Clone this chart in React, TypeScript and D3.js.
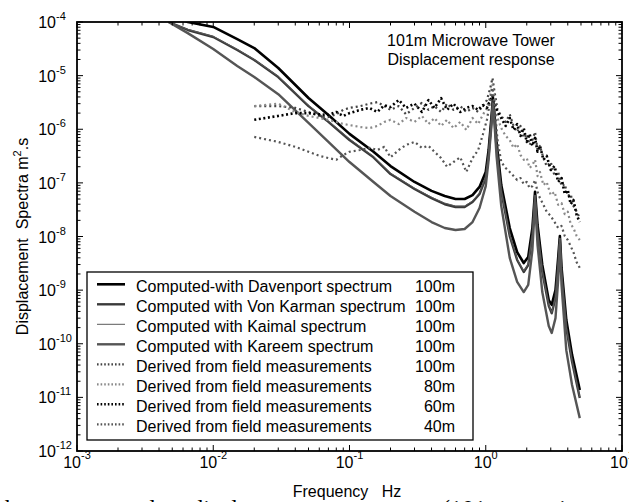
import React, { useEffect, useRef } from 'react';
import * as d3 from 'd3';

// computed spectra (Hz, m^2.s)
const computedFreq = [0.0047, 0.0065, 0.01, 0.015, 0.02, 0.03, 0.05, 0.07, 0.1, 0.15, 0.2, 0.3, 0.4, 0.5, 0.6, 0.7, 0.8, 0.9, 1.0, 1.05, 1.1, 1.13, 1.16, 1.2, 1.3, 1.5, 1.7, 1.9, 2.05, 2.2, 2.3, 2.4, 2.6, 2.9, 3.05, 3.25, 3.4, 3.5, 3.6, 3.9, 4.3, 4.9];

const davenport = [1.4e-4, 1.0e-4, 8.1e-5, 4.8e-5, 3.27e-5, 1.39e-5, 3.83e-6, 1.84e-6, 8.2e-7, 3.8e-7, 2.06e-7, 1.04e-7, 7.1e-8, 5.7e-8, 5.0e-8, 5.0e-8, 5.9e-8, 8.4e-8, 1.6e-7, 4.1e-7, 1.62e-6, 3.83e-6, 1.84e-6, 5.8e-7, 9.1e-8, 1.44e-8, 5.1e-9, 3.2e-9, 4.15e-9, 1.44e-8, 6.8e-8, 1.64e-8, 2.94e-9, 6.5e-10, 5.3e-10, 1.0e-9, 3.97e-9, 1.02e-8, 2.59e-9, 2.8e-10, 6.2e-11, 1.37e-11];
const vonKarman = [1.0e-4, 7.1e-5, 5.25e-5, 3.0e-5, 1.96e-5, 9.4e-6, 2.7e-6, 1.37e-6, 6.3e-7, 3.0e-7, 1.46e-7, 7.7e-8, 5.2e-8, 4.0e-8, 3.55e-8, 3.55e-8, 4.4e-8, 6.2e-8, 1.23e-7, 3.3e-7, 1.37e-6, 3.4e-6, 1.49e-6, 4.5e-7, 6.8e-8, 1.02e-8, 3.65e-9, 2.18e-9, 2.94e-9, 1.07e-8, 5.7e-8, 1.21e-8, 2.18e-9, 5.1e-10, 3.7e-10, 7.1e-10, 2.94e-9, 9.0e-9, 2.0e-9, 1.97e-10, 4.6e-11, 9.7e-12];
const kaimal = [1.0e-4, 7.3e-5, 5.4e-5, 3.1e-5, 2.0e-5, 9.7e-6, 2.8e-6, 1.42e-6, 6.6e-7, 3.1e-7, 1.52e-7, 8.0e-8, 5.4e-8, 4.2e-8, 3.7e-8, 3.7e-8, 4.6e-8, 6.5e-8, 1.28e-7, 3.4e-7, 1.42e-6, 3.5e-6, 1.55e-6, 4.7e-7, 7.1e-8, 1.06e-8, 3.8e-9, 2.27e-9, 3.06e-9, 1.11e-8, 5.9e-8, 1.26e-8, 2.27e-9, 5.3e-10, 3.85e-10, 7.4e-10, 3.06e-9, 9.4e-9, 2.1e-9, 2.05e-10, 4.8e-11, 1.01e-11];
const kareem = [1.0e-4, 6.2e-5, 3.14e-5, 1.51e-5, 9.4e-6, 4.5e-6, 1.31e-6, 5.8e-7, 2.45e-7, 1.04e-7, 5.7e-8, 2.9e-8, 1.86e-8, 1.44e-8, 1.32e-8, 1.38e-8, 1.86e-8, 3.4e-8, 8.7e-8, 2.7e-7, 1.15e-6, 2.96e-6, 1.25e-6, 3.2e-7, 3.7e-8, 4.0e-9, 1.42e-9, 9.2e-10, 1.25e-9, 5.6e-9, 4.4e-8, 6.9e-9, 9.2e-10, 2.14e-10, 1.59e-10, 3.0e-10, 1.54e-9, 7.2e-9, 1.25e-9, 7.6e-11, 1.7e-11, 4.1e-12];

// field measurements
const fieldFreq = [0.02, 0.03, 0.04, 0.05, 0.06, 0.07, 0.08, 0.09, 0.1, 0.12, 0.14, 0.16, 0.18, 0.2, 0.23, 0.26, 0.3, 0.34, 0.38, 0.42, 0.47, 0.52, 0.58, 0.65, 0.72, 0.8, 0.88, 0.95, 1.02, 1.08, 1.12, 1.16, 1.22, 1.3, 1.4, 1.5, 1.6, 1.7, 1.8, 1.9, 2.0, 2.1, 2.2, 2.3, 2.4, 2.5, 2.65, 2.8, 3.0, 3.2, 3.4, 3.6, 3.8, 4.0, 4.2, 4.4, 4.65, 4.9];

const field100 = [2.7e-6, 2.7e-6, 2.5e-6, 2.1e-6, 1.77e-6, 1.7e-6, 1.9e-6, 2.3e-6, 2.5e-6, 2.7e-6, 3.0e-6, 3.2e-6, 2.7e-6, 2.3e-6, 2.7e-6, 1.9e-6, 2.5e-6, 3.1e-6, 2.3e-6, 2.7e-6, 2.1e-6, 3.0e-6, 2.3e-6, 2.7e-6, 2.1e-6, 2.5e-6, 2.1e-6, 2.7e-6, 3.5e-6, 5.9e-6, 9.0e-6, 5.0e-6,
  2.3e-6, 1.77e-6, 1.37e-6, 1.9e-6, 1.15e-6, 8.9e-7, 1.15e-6, 6.9e-7, 8.2e-7, 5.1e-7, 6.3e-7, 8.9e-7, 4.1e-7, 4.9e-7, 2.9e-7, 2.06e-7, 2.45e-7, 1.34e-7, 1.6e-7, 8.7e-8, 9.5e-8, 5.7e-8, 6.2e-8, 3.7e-8, 2.9e-8, 2.2e-8];
const field80 = [2.7e-6, 3.0e-6, 2.1e-6, 1.77e-6, 1.62e-6, 1.5e-6, 1.37e-6, 1.25e-6, 1.2e-6, 1.1e-6, 1.05e-6, 1.15e-6, 1.37e-6, 1.5e-6, 1.25e-6, 1.62e-6, 1.37e-6, 1.77e-6, 1.25e-6, 1.62e-6, 1.15e-6, 1.5e-6, 1.05e-6, 1.37e-6, 9.7e-7, 1.62e-6, 1.25e-6, 1.84e-6, 2.5e-6, 4.4e-6, 6.7e-6, 3.5e-6,
  1.62e-6, 1.05e-6, 7.5e-7, 6.3e-7, 4.5e-7, 5.3e-7, 3.3e-7, 2.7e-7, 2.9e-7, 1.9e-7, 2.15e-7, 2.7e-7, 1.34e-7, 1.6e-7, 9.1e-8, 1.04e-7, 5.9e-8, 6.8e-8, 3.9e-8, 4.2e-8, 2.6e-8, 2.9e-8, 1.71e-8, 1.44e-8, 1.02e-8, 8.6e-9];
const field60 = [1.5e-6, 1.77e-6, 2.0e-6, 2.0e-6, 1.9e-6, 1.84e-6, 2.1e-6, 1.77e-6, 2.0e-6, 2.3e-6, 2.5e-6, 2.1e-6, 2.8e-6, 2.6e-6, 3.5e-6, 2.5e-6, 3.0e-6, 2.1e-6, 3.5e-6, 2.5e-6, 3.8e-6, 2.3e-6, 3.0e-6, 2.1e-6, 2.5e-6, 2.7e-6, 2.3e-6, 2.8e-6, 2.5e-6, 3.5e-6, 4.2e-6, 3.0e-6,
  2.1e-6, 1.62e-6, 1.15e-6, 1.62e-6, 9.7e-7, 1.25e-6, 7.5e-7, 1.05e-6, 5.8e-7, 8.2e-7, 4.9e-7, 6.9e-7, 3.8e-7, 4.9e-7, 2.7e-7, 3.2e-7, 1.74e-7, 2.06e-7, 1.04e-7, 1.23e-7, 6.2e-8, 7.4e-8, 4.0e-8, 4.8e-8, 2.5e-8, 1.86e-8];
const field40 = [7.2e-7, 5.8e-7, 4.7e-7, 3.8e-7, 3.2e-7, 2.9e-7, 2.7e-7, 3.3e-7, 3.8e-7, 4.1e-7, 4.5e-7, 4.1e-7, 4.7e-7, 3.0e-7, 4.1e-7, 5.1e-7, 5.8e-7, 4.5e-7, 4.9e-7, 3.8e-7, 2.9e-7, 2.0e-7, 2.45e-7, 3.0e-7, 1.6e-7, 2.9e-7, 4.1e-7, 7.8e-7, 1.5e-6, 3.5e-6, 5.9e-6, 2.8e-6,
  6.3e-7, 2.45e-7, 1.9e-7, 1.6e-7, 1.34e-7, 1.13e-7, 1.23e-7, 9.5e-8, 1.04e-7, 8.0e-8, 8.7e-8, 1.13e-7, 6.8e-8, 5.2e-8, 3.9e-8, 2.9e-8, 2.4e-8, 1.86e-8, 1.44e-8, 1.57e-8, 1.02e-8, 8.6e-9, 6.6e-9, 5.1e-9, 3.3e-9, 2.59e-9];

const legendLabels = [
  'Computed-with Davenport spectrum',
  'Computed with Von Karman spectrum',
  'Computed with Kaimal spectrum',
  'Computed with Kareem spectrum',
  'Derived from field measurements',
  'Derived from field measurements',
  'Derived from field measurements',
  'Derived from field measurements',
];
const legendHeights = ['100m', '100m', '100m', '100m', '100m', '80m', '60m', '40m'];

const xDecades = [-3, -2, -1, 0, 1];
const yDecades = [-12, -11, -10, -9, -8, -7, -6, -5, -4];

const font = 'Arial, "Liberation Sans", Helvetica, sans-serif';

export default function App() {
  const ref = useRef<SVGSVGElement>(null);

  useEffect(() => {
    const svg = d3.select(ref.current);
    svg.selectAll('*').remove();

    const left = 77, right = 622, top = 22, bottom = 451;

    const x = d3.scaleLog().domain([1e-3, 10]).range([left, right]);
    const y = d3.scaleLog().domain([1e-12, 1e-4]).range([bottom, top]);

    svg.append('rect').attr('width', 629).attr('height', 502).attr('fill', '#fff');

    svg.append('clipPath').attr('id', 'plotclip')
      .append('rect')
      .attr('x', left).attr('y', top)
      .attr('width', right - left).attr('height', bottom - top);

    const series = [
      { f: computedFreq, v: davenport, color: '#000', w: 2.6, dash: null },
      { f: computedFreq, v: vonKarman, color: '#3a3a3a', w: 2.4, dash: null },
      { f: computedFreq, v: kaimal, color: '#5a5a5a', w: 1, dash: null },
      { f: computedFreq, v: kareem, color: '#555', w: 2.4, dash: null },
      { f: fieldFreq, v: field100, color: '#444', w: 2.2, dash: '2 3' },
      { f: fieldFreq, v: field80, color: '#8a8a8a', w: 2.2, dash: '2 3' },
      { f: fieldFreq, v: field60, color: '#000', w: 2.6, dash: '2 2.6' },
      { f: fieldFreq, v: field40, color: '#555', w: 2.2, dash: '2 3' },
    ];

    const line = d3.line<[number, number]>()
      .x(d => x(d[0]))
      .y(d => y(d[1]));

    const plot = svg.append('g').attr('clip-path', 'url(#plotclip)');
    series.forEach(s => {
      const pts = s.f.map((f, i) => [f, s.v[i]] as [number, number]);
      plot.append('path')
        .attr('d', line(pts))
        .attr('fill', 'none')
        .attr('stroke', s.color)
        .attr('stroke-width', s.w)
        .attr('stroke-dasharray', s.dash)
        .attr('stroke-linejoin', 'round');
    });

    // ticks
    const ticks = svg.append('g').attr('stroke', '#000').attr('stroke-width', 1);
    const xTicks: [number, boolean][] = [];
    xDecades.forEach(e => {
      xTicks.push([Math.pow(10, e), true]);
      if (e < 1) d3.range(2, 10).forEach(k => xTicks.push([k * Math.pow(10, e), false]));
    });
    xTicks.forEach(([t, major]) => {
      const len = major ? 6 : 3.5;
      const px = x(t);
      ticks.append('line').attr('x1', px).attr('x2', px).attr('y1', bottom).attr('y2', bottom - len);
      ticks.append('line').attr('x1', px).attr('x2', px).attr('y1', top).attr('y2', top + len);
    });
    const yTicks: [number, boolean][] = [];
    yDecades.forEach(e => {
      yTicks.push([Math.pow(10, e), true]);
      if (e < -4) d3.range(2, 10).forEach(k => yTicks.push([k * Math.pow(10, e), false]));
    });
    yTicks.forEach(([t, major]) => {
      const len = major ? 6 : 3.5;
      const py = y(t);
      ticks.append('line').attr('x1', left).attr('x2', left + len).attr('y1', py).attr('y2', py);
      ticks.append('line').attr('x1', right).attr('x2', right - len).attr('y1', py).attr('y2', py);
    });

    // frame
    svg.append('rect')
      .attr('x', left).attr('y', top)
      .attr('width', right - left).attr('height', bottom - top)
      .attr('fill', 'none').attr('stroke', '#000').attr('stroke-width', 1.8);

    // x tick labels
    xDecades.forEach(e => {
      const t = svg.append('text')
        .attr('x', x(Math.pow(10, e)))
        .attr('y', bottom + 17)
        .attr('text-anchor', 'middle')
        .attr('font-family', font)
        .attr('font-size', 16);
      t.append('tspan').text('10');
      t.append('tspan').attr('dy', -9).attr('font-size', 11).text(String(e));
    });

    // y tick labels
    yDecades.forEach(e => {
      const py = y(Math.pow(10, e));
      svg.append('text')
        .attr('x', 56).attr('y', py + 6)
        .attr('text-anchor', 'end')
        .attr('font-family', font).attr('font-size', 16)
        .text('10');
      svg.append('text')
        .attr('x', 56).attr('y', py - 2)
        .attr('font-family', font).attr('font-size', 11)
        .text(String(e));
    });

    // axis titles
    svg.append('text')
      .attr('x', 347).attr('y', 497)
      .attr('text-anchor', 'middle')
      .attr('font-family', font).attr('font-size', 16)
      .style('white-space', 'pre')
      .text('Frequency   Hz');

    const yt = svg.append('text')
      .attr('transform', `translate(28, ${(top + bottom) / 2}) rotate(-90)`)
      .attr('text-anchor', 'middle')
      .attr('font-family', font).attr('font-size', 16)
      .style('white-space', 'pre');
    yt.append('tspan').text('Displacement  Spectra m');
    yt.append('tspan').attr('dy', -7).attr('font-size', 11).text('2');
    yt.append('tspan').attr('dy', 7).text('.s');

    // title
    svg.append('text').attr('x', 471).attr('y', 46)
      .attr('text-anchor', 'middle').attr('font-family', font).attr('font-size', 16)
      .text('101m Microwave Tower');
    svg.append('text').attr('x', 471).attr('y', 65)
      .attr('text-anchor', 'middle').attr('font-family', font).attr('font-size', 16)
      .text('Displacement response');

    // legend
    const lg = svg.append('g');
    lg.append('rect')
      .attr('x', 87).attr('y', 272).attr('width', 386).attr('height', 168)
      .attr('fill', '#fff').attr('stroke', '#000').attr('stroke-width', 1.3);
    series.forEach((s, i) => {
      const cy = 284.3 + i * 20;
      lg.append('line')
        .attr('x1', 97).attr('x2', 125).attr('y1', cy).attr('y2', cy)
        .attr('stroke', s.color)
        .attr('stroke-width', s.w)
        .attr('stroke-dasharray', s.dash ? '1.6 2' : null);
      lg.append('text')
        .attr('x', 136).attr('y', cy + 7.4)
        .attr('font-family', font).attr('font-size', 16)
        .text(legendLabels[i]);
      lg.append('text')
        .attr('x', 455).attr('y', cy + 7.4)
        .attr('text-anchor', 'end')
        .attr('font-family', font).attr('font-size', 16)
        .text(legendHeights[i]);
    });

    // page text cut off under the figure
    const serif = '"Times New Roman", "Liberation Serif", serif';
    svg.append('text').attr('x', -2).attr('y', 516)
      .attr('font-family', serif).attr('font-size', 24)
      .attr('word-spacing', 30)
      .text('the measured displacement');
    svg.append('text').attr('x', 442).attr('y', 516)
      .attr('font-family', serif).attr('font-size', 24)
      .attr('word-spacing', 30)
      .text('(101m microwave');
  }, []);

  return (
    <svg ref={ref} width={629} height={502}
      style={{ position: 'absolute', left: 0, top: 0, display: 'block' }} />
  );
}
